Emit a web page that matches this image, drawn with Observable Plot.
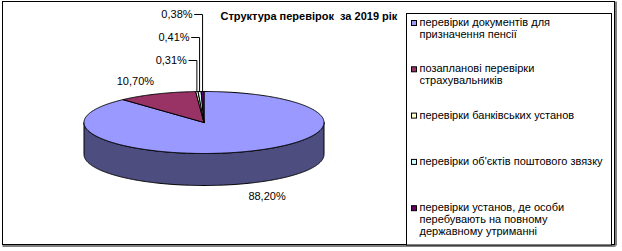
<!DOCTYPE html>
<html><head><meta charset="utf-8">
<script src="https://cdn.jsdelivr.net/npm/d3@7"></script>
<script src="https://cdn.jsdelivr.net/npm/@observablehq/plot@0.6"></script>
<style>body{margin:0;background:#fff} svg{display:block}</style>
</head><body><div id="chart"></div>
<script>
const title = "Структура перевірок  за 2019 рік";
const categories = [
  "перевірки документів для\nпризначення пенсії",
  "позапланові перевірки\nстрахувальників",
  "перевірки банківських установ",
  "перевірки об'єктів поштового звязку",
  "перевірки установ, де особи\nперебувають на повному\nдержавному утриманні"
];
const values = [88.20, 10.70, 0.31, 0.41, 0.38];
const colors = ["#9999FF", "#993366", "#FFFFCC", "#CCFFFF", "#660066"];

const W = 622, H = 251;
const cx = 203.5, cy = 122, rx = 120, ry = 31, depth = 32;
const total = d3.sum(values);
const fmt = v => d3.format(".2f")(v).replace(".", ",") + "%";
const pt = (a, dz = 0) => ({x: cx + rx * Math.sin(a), y: cy - ry * Math.cos(a) + dz});
const center = {x: cx, y: cy};
let acc = 0;
const slices = values.map((v, i) => {
  const a0 = acc / total * 2 * Math.PI; acc += v;
  const a1 = acc / total * 2 * Math.PI;
  return {i, v, a0, a1, mid: (a0 + a1) / 2};
});
function arc(a0, a1, dz = 0) {
  const n = Math.max(2, Math.ceil(Math.abs(a1 - a0) / (Math.PI / 360)));
  return d3.range(n + 1).map(k => pt(a0 + (a1 - a0) * k / n, dz));
}
const darker = c => { const r = d3.rgb(c); return d3.rgb(r.r * 0.5, r.g * 0.5, r.b * 0.5).formatHex(); };

const marks = [];
// outer frame
marks.push(Plot.rect([0], {x1: () => 2.5, x2: () => 614.5, y1: () => 1.5, y2: () => 244.5, fill: "white", stroke: "black", strokeWidth: 1}));
marks.push(Plot.ruleX([615.5], {y1: 1.5, y2: 245.5, stroke: "black"}));
marks.push(Plot.ruleY([245.5], {x1: 2.5, x2: 615.5, stroke: "black"}));

// side walls (front half)
slices.forEach(s => {
  const lo = Math.max(s.a0, Math.PI / 2), hi = Math.min(s.a1, 3 * Math.PI / 2);
  if (hi <= lo) return;
  const pts = [...arc(lo, hi, 0), ...arc(hi, lo, depth)];
  pts.push(pts[0]);
  marks.push(Plot.line(pts, {x: "x", y: "y", fill: darker(colors[s.i]), stroke: "black", strokeWidth: 1, curve: "linear"}));
});
// top faces
slices.forEach(s => {
  const pts = [center, ...arc(s.a0, s.a1, 0), center];
  marks.push(Plot.line(pts, {x: "x", y: "y", fill: colors[s.i], stroke: "black", strokeWidth: 1, curve: "linear", strokeLinejoin: "miter"}));
});

// labels
const small = slices.filter(s => s.v < 1);
const big = slices.filter(s => s.v >= 1);
const bigLabels = big.map(s => {
  const p = pt(s.mid);
  const front = Math.cos(s.mid) < 0;
  return {x: cx + 1.45 * (p.x - cx), y: cy + 1.45 * (p.y - cy) + (front ? depth : 0), t: fmt(s.v)};
});
marks.push(Plot.text(bigLabels, {x: "x", y: "y", text: "t", fill: "black", fontSize: 11}));
const smallLabels = small.map((s, k) => {
  const p = pt(s.mid);
  const y = 60 - 23 * k;
  return {lx: p.x, ly: p.y, y, tx: p.x - 10, t: fmt(s.v)};
});
smallLabels.forEach(d => {
  marks.push(Plot.line([{x: d.tx + 2, y: d.y}, {x: d.lx, y: d.y}, {x: d.lx, y: d.ly}], {x: "x", y: "y", stroke: "black", strokeWidth: 1}));
});
marks.push(Plot.text(smallLabels, {x: "tx", y: "y", text: "t", textAnchor: "end", fill: "black", fontSize: 11}));

// title
marks.push(Plot.text([title], {x: () => 220, y: () => 16, text: d => d, textAnchor: "start", fontWeight: "bold", fontSize: 11, fill: "black"}));

// legend
marks.push(Plot.rect([0], {x1: () => 406.5, x2: () => 611.5, y1: () => 13.5, y2: () => 245, fill: "white", stroke: "black", strokeWidth: 1}));
const legend = categories.map((c, i) => ({c, i, y: 23 + i * 46.3}));
marks.push(Plot.rect(legend, {x1: () => 411.5, x2: () => 416.5, y1: d => d.y - 2.5, y2: d => d.y + 2.5, fill: d => colors[d.i], stroke: "black", strokeWidth: 1}));
marks.push(Plot.text(legend, {x: () => 419, y: d => d.y - 6, text: "c", textAnchor: "start", lineAnchor: "top", lineHeight: 12 / 11, fontSize: 11, fill: "black"}));

const chart = Plot.plot({
  width: W, height: H,
  margin: 0,
  x: {domain: [0, W], range: [0, W], axis: null},
  y: {domain: [0, H], range: [0, H], axis: null},
  color: {type: "identity"},
  style: {fontFamily: "'Liberation Sans', Arial, sans-serif", fontSize: "11px", background: "white"},
  marks
});
document.getElementById("chart").append(chart);
</script>
</body></html>
